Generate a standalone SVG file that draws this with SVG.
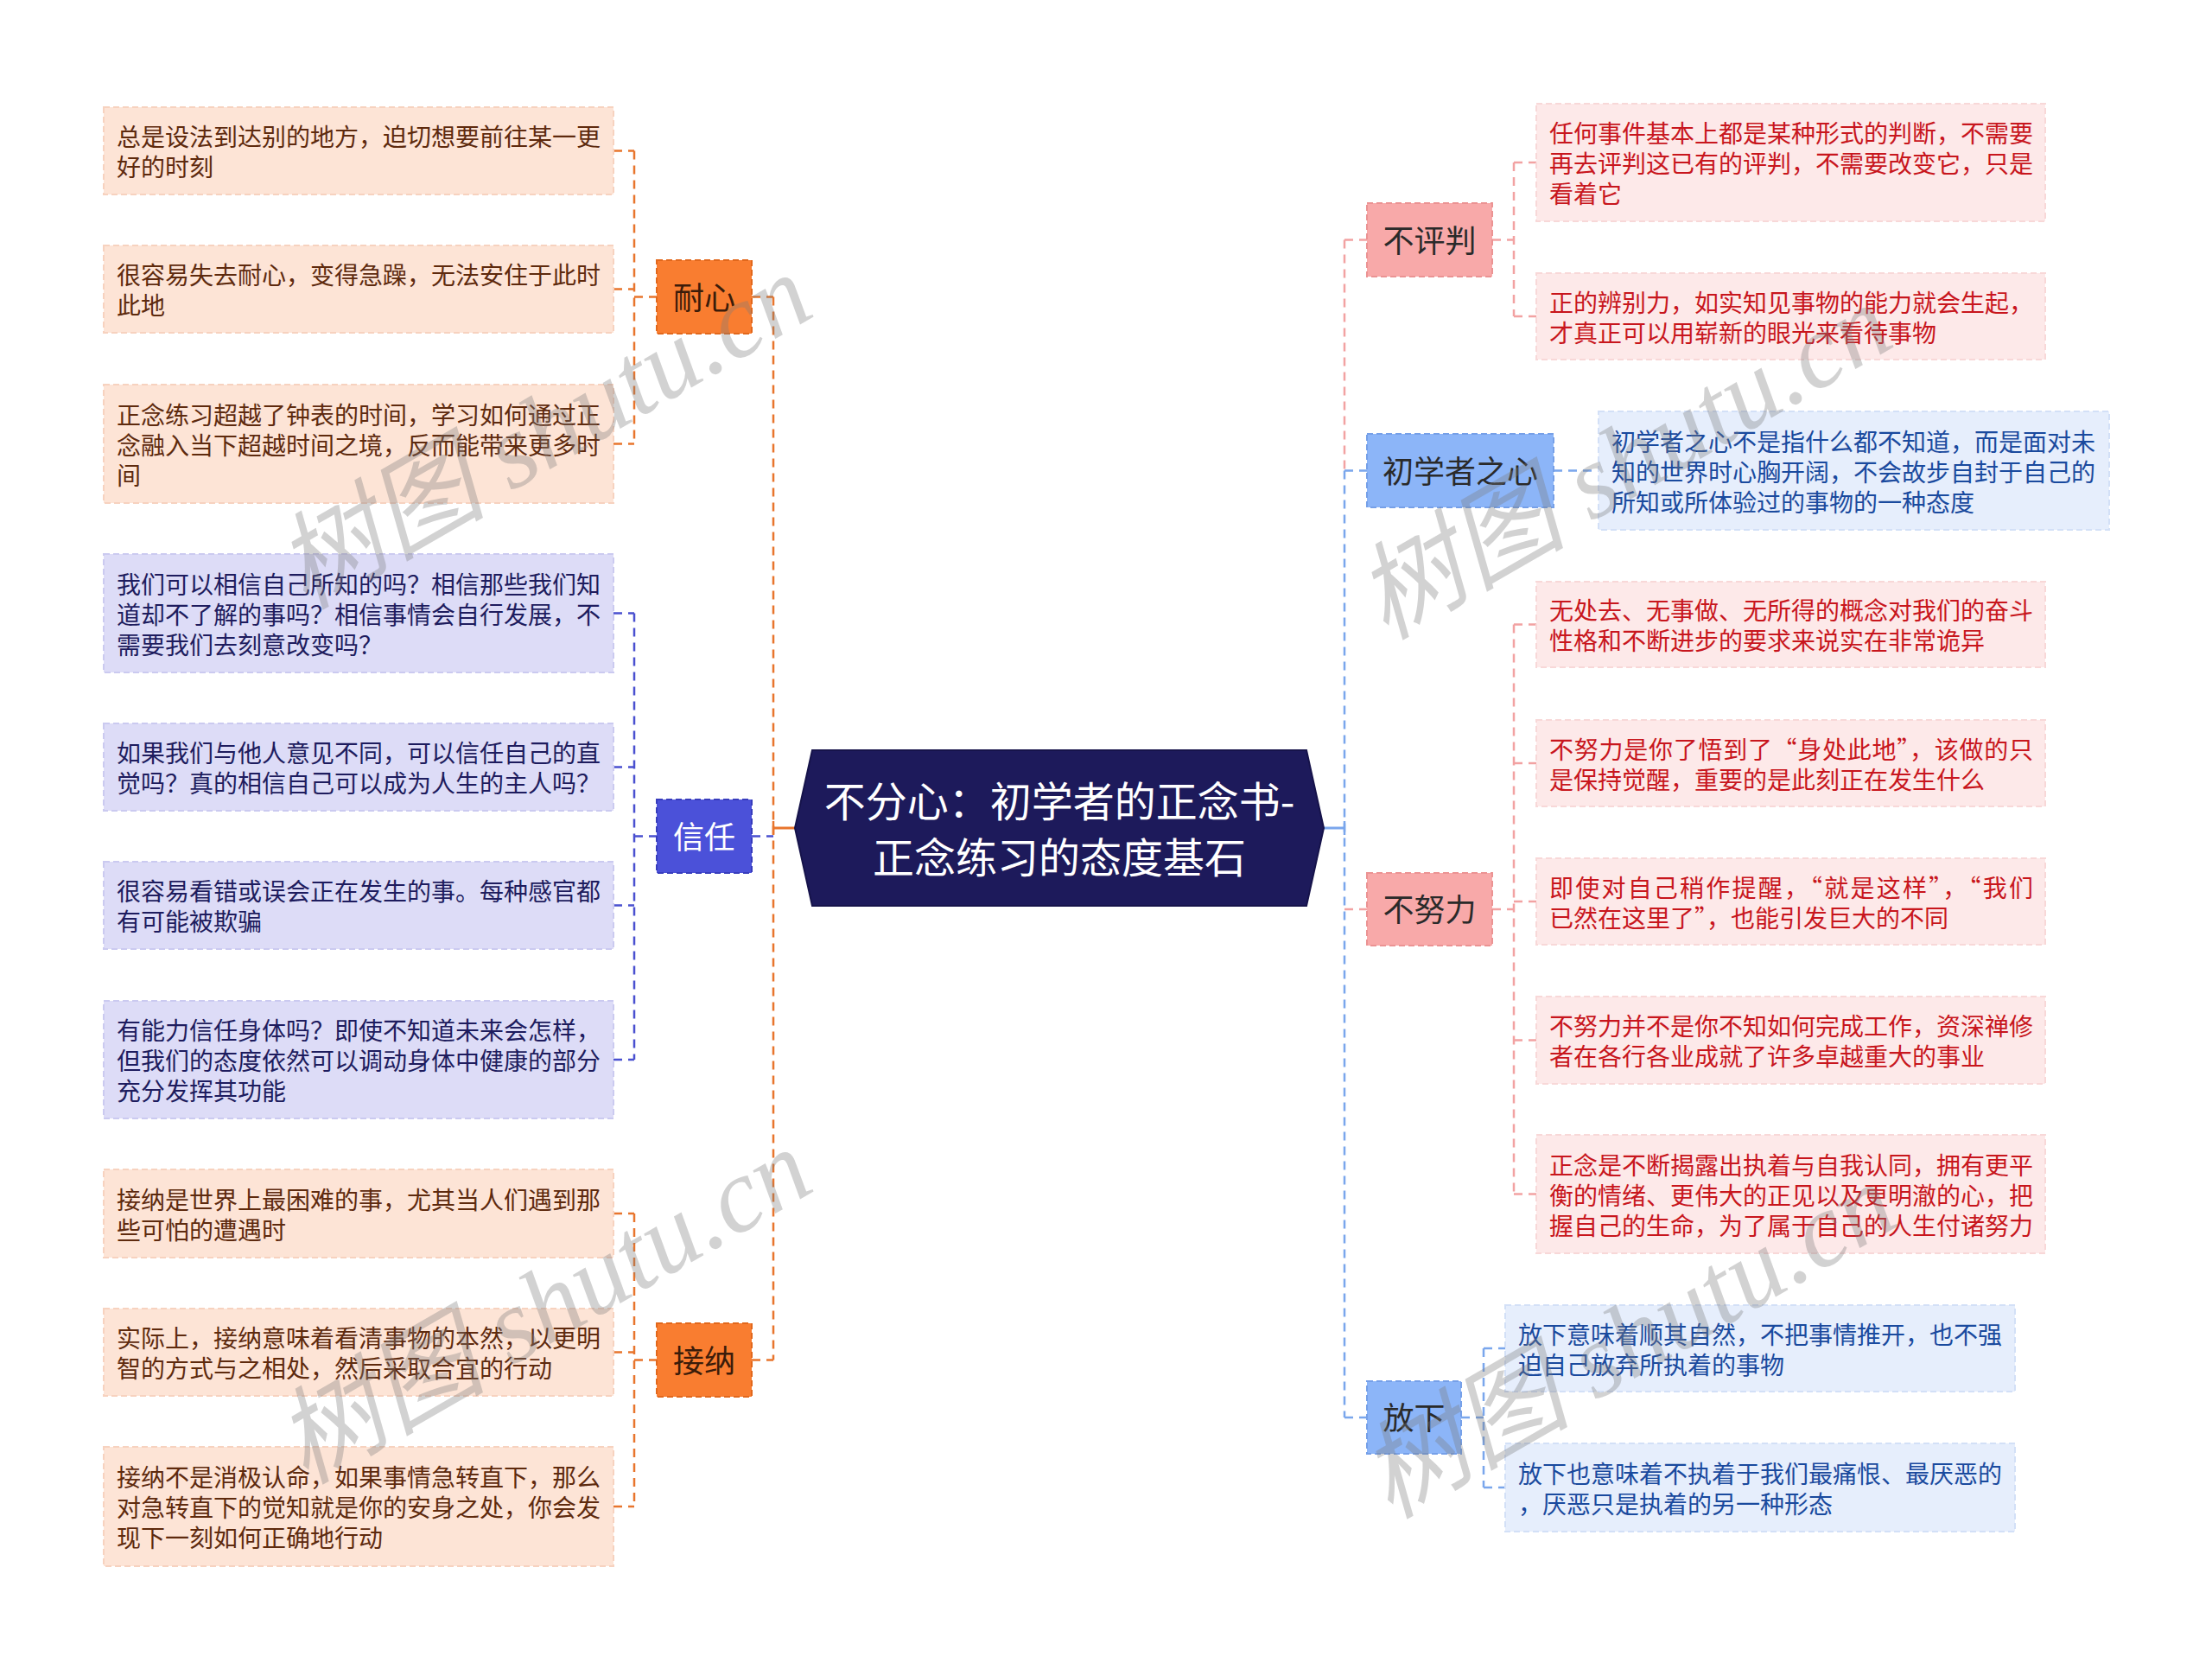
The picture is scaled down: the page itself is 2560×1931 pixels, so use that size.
<svg xmlns="http://www.w3.org/2000/svg" width="2560" height="1931" viewBox="0 0 2560 1931">
<style>
text{font-family:"Noto Sans CJK SC","Liberation Sans",sans-serif;}
.lt{font-size:28px;}
.nt{font-size:36px;text-anchor:middle;}
.rt{font-size:48px;text-anchor:middle;fill:#ffffff;}
.lo{fill:#fde4d6;stroke:#f7d2bf;stroke-width:2;stroke-dasharray:7 4;}
.lp{fill:#dddcf7;stroke:#cbcaf0;stroke-width:2;stroke-dasharray:7 4;}
.lr{fill:#fde9e9;stroke:#f8d8d8;stroke-width:2;stroke-dasharray:7 4;}
.lb{fill:#e6eefc;stroke:#d3e0f7;stroke-width:2;stroke-dasharray:7 4;}
.to{fill:#5e2a0e;}
.tp{fill:#1e1c5e;}
.tr{fill:#c8161d;}
.tb{fill:#1a4a9e;}
.no{fill:#f97d30;stroke:#e2681c;stroke-width:2;stroke-dasharray:7 4;}
.np{fill:#4b51d9;stroke:#383dbd;stroke-width:2;stroke-dasharray:7 4;}
.nr{fill:#f8a9a9;stroke:#eb9393;stroke-width:2;stroke-dasharray:7 4;}
.nb{fill:#8cb5f8;stroke:#76a0e8;stroke-width:2;stroke-dasharray:7 4;}
.c{fill:none;stroke-width:2.5;stroke-dasharray:10 7;}
.co{stroke:#e8752d;}
.cp{stroke:#4a50d0;}
.cr{stroke:#f2a2a2;}
.cb{stroke:#7aa6ec;}
.wm{font-family:"Liberation Serif","Noto Sans CJK SC",serif;font-size:122px;font-style:italic;fill:#7a7a7a;fill-opacity:0.34;text-anchor:middle;}
</style>
<rect x="0" y="0" width="2560" height="1931" fill="#ffffff"/>

<g id="connectors">
  <path class="c co" d="M895 343.5 V1573.5 M870 343.5 H895 M870 1573.5 H895"/>
  <path class="c cp" d="M870 967.5 H895"/>
  <path d="M895 958 H921" stroke="#e8752d" stroke-width="3" fill="none"/>
  <path d="M895 950 V966" stroke="#e8752d" stroke-width="2.5" fill="none"/>
  <path class="c co" d="M734 174.5 V513.5 M710 174.5 H734 M710 334.5 H734 M710 513.5 H734 M734 343.5 H760"/>
  <path class="c cp" d="M734 709.5 V1226 M710 709.5 H734 M710 887.5 H734 M710 1047.5 H734 M710 1226 H734 M734 967.5 H760"/>
  <path class="c co" d="M734 1404 V1743 M710 1404 H734 M710 1564.5 H734 M710 1743 H734 M734 1573.5 H760"/>
  <path d="M1532 958 H1556" stroke="#7aa6ec" stroke-width="3" fill="none"/>
  <path d="M1556 950 V966" stroke="#7aa6ec" stroke-width="2.5" fill="none"/>
  <path class="c cr" d="M1556 277.5 V544.5 M1556 277.5 H1582 M1556 1052 H1582"/>
  <path class="c cb" d="M1556 544.5 V1640 M1556 544.5 H1582 M1556 1640 H1582"/>
  <path class="c cr" d="M1752 188 V366 M1752 188 H1778 M1752 366 H1778 M1727 277.5 H1752"/>
  <path class="c cb" d="M1798 544.5 H1850"/>
  <path class="c cr" d="M1752 722.5 V1381.5 M1752 722.5 H1778 M1752 883 H1778 M1752 1043 H1778 M1752 1203.5 H1778 M1752 1381.5 H1778 M1727 1052 H1752"/>
  <path class="c cb" d="M1717 1560 V1721 M1717 1560 H1742 M1717 1721 H1742 M1691 1640 H1717"/>
</g>

<g id="root">
  <polygon points="940,868 1512,868 1532,958 1512,1048 940,1048 920,958" fill="#1d1a5b" stroke="#16134a" stroke-width="2"/>
  <text class="rt" x="1226" y="944.5">不分心：初学者的正念书-</text>
  <text class="rt" x="1226" y="1010">正念练习的态度基石</text>
</g>

<g id="node-naixin">
  <rect class="no" x="760" y="301" width="110" height="85"/>
  <text class="nt" x="815" y="357.5" fill="#3b1c0a">耐心</text>
</g>
<g id="node-xinren">
  <rect class="np" x="760" y="925" width="110" height="85"/>
  <text class="nt" x="815" y="981.5" fill="#ffffff">信任</text>
</g>
<g id="node-jiena">
  <rect class="no" x="760" y="1531" width="110" height="85"/>
  <text class="nt" x="815" y="1587.5" fill="#3b1c0a">接纳</text>
</g>
<g id="node-bupingpan">
  <rect class="nr" x="1582" y="235" width="145" height="85"/>
  <text class="nt" x="1654.5" y="291.5" fill="#2a2a2a">不评判</text>
</g>
<g id="node-chuxuezhe">
  <rect class="nb" x="1582" y="502" width="216" height="85"/>
  <text class="nt" x="1690" y="558.5" fill="#2a2a2a">初学者之心</text>
</g>
<g id="node-bunuli">
  <rect class="nr" x="1582" y="1010" width="145" height="84"/>
  <text class="nt" x="1654.5" y="1066" fill="#2a2a2a">不努力</text>
</g>
<g id="node-fangxia">
  <rect class="nb" x="1582" y="1598" width="109" height="84"/>
  <text class="nt" x="1636.5" y="1654" fill="#2a2a2a">放下</text>
</g>

<g id="leaf-L1">
  <rect class="lo" x="120" y="124" width="590" height="101"/>
  <text class="lt to"><tspan x="135" y="169">总是设法到达别的地方，迫切想要前往某一更</tspan><tspan x="135" y="204">好的时刻</tspan></text>
</g>
<g id="leaf-L2">
  <rect class="lo" x="120" y="284" width="590" height="101"/>
  <text class="lt to"><tspan x="135" y="329">很容易失去耐心，变得急躁，无法安住于此时</tspan><tspan x="135" y="364">此地</tspan></text>
</g>
<g id="leaf-L3">
  <rect class="lo" x="120" y="445" width="590" height="137"/>
  <text class="lt to"><tspan x="135" y="490.5">正念练习超越了钟表的时间，学习如何通过正</tspan><tspan x="135" y="525.5">念融入当下超越时间之境，反而能带来更多时</tspan><tspan x="135" y="560.5">间</tspan></text>
</g>

<g id="leaf-T1">
  <rect class="lp" x="120" y="641" width="590" height="137"/>
  <text class="lt tp"><tspan x="135" y="686.5">我们可以相信自己所知的吗？相信那些我们知</tspan><tspan x="135" y="721.5">道却不了解的事吗？相信事情会自行发展，不</tspan><tspan x="135" y="756.5">需要我们去刻意改变吗？</tspan></text>
</g>
<g id="leaf-T2">
  <rect class="lp" x="120" y="837" width="590" height="101"/>
  <text class="lt tp"><tspan x="135" y="882">如果我们与他人意见不同，可以信任自己的直</tspan><tspan x="135" y="917">觉吗？真的相信自己可以成为人生的主人吗？</tspan></text>
</g>
<g id="leaf-T3">
  <rect class="lp" x="120" y="997" width="590" height="101"/>
  <text class="lt tp"><tspan x="135" y="1042">很容易看错或误会正在发生的事。每种感官都</tspan><tspan x="135" y="1077">有可能被欺骗</tspan></text>
</g>
<g id="leaf-T4">
  <rect class="lp" x="120" y="1158" width="590" height="136"/>
  <text class="lt tp"><tspan x="135" y="1203">有能力信任身体吗？即使不知道未来会怎样，</tspan><tspan x="135" y="1238">但我们的态度依然可以调动身体中健康的部分</tspan><tspan x="135" y="1273">充分发挥其功能</tspan></text>
</g>

<g id="leaf-A1">
  <rect class="lo" x="120" y="1353" width="590" height="102"/>
  <text class="lt to"><tspan x="135" y="1398.5">接纳是世界上最困难的事，尤其当人们遇到那</tspan><tspan x="135" y="1433.5">些可怕的遭遇时</tspan></text>
</g>
<g id="leaf-A2">
  <rect class="lo" x="120" y="1514" width="590" height="101"/>
  <text class="lt to"><tspan x="135" y="1559">实际上，接纳意味着看清事物的本然，以更明</tspan><tspan x="135" y="1594">智的方式与之相处，然后采取合宜的行动</tspan></text>
</g>
<g id="leaf-A3">
  <rect class="lo" x="120" y="1674" width="590" height="138"/>
  <text class="lt to"><tspan x="135" y="1720">接纳不是消极认命，如果事情急转直下，那么</tspan><tspan x="135" y="1755">对急转直下的觉知就是你的安身之处，你会发</tspan><tspan x="135" y="1790">现下一刻如何正确地行动</tspan></text>
</g>

<g id="leaf-R1">
  <rect class="lr" x="1778" y="120" width="589" height="136"/>
  <text class="lt tr"><tspan x="1793" y="165">任何事件基本上都是某种形式的判断，不需要</tspan><tspan x="1793" y="200">再去评判这已有的评判，不需要改变它，只是</tspan><tspan x="1793" y="235">看着它</tspan></text>
</g>
<g id="leaf-R2">
  <rect class="lr" x="1778" y="316" width="589" height="100"/>
  <text class="lt tr"><tspan x="1793" y="360.5">正的辨别力，如实知见事物的能力就会生起，</tspan><tspan x="1793" y="395.5">才真正可以用崭新的眼光来看待事物</tspan></text>
</g>
<g id="leaf-B1">
  <rect class="lb" x="1850" y="476" width="591" height="137"/>
  <text class="lt tb"><tspan x="1865" y="521.5">初学者之心不是指什么都不知道，而是面对未</tspan><tspan x="1865" y="556.5">知的世界时心胸开阔，不会故步自封于自己的</tspan><tspan x="1865" y="591.5">所知或所体验过的事物的一种态度</tspan></text>
</g>
<g id="leaf-N1">
  <rect class="lr" x="1778" y="673" width="589" height="99"/>
  <text class="lt tr"><tspan x="1793" y="717">无处去、无事做、无所得的概念对我们的奋斗</tspan><tspan x="1793" y="752">性格和不断进步的要求来说实在非常诡异</tspan></text>
</g>
<g id="leaf-N2">
  <rect class="lr" x="1778" y="833" width="589" height="100"/>
  <text class="lt tr"><tspan x="1793" y="877.5" textLength="560" lengthAdjust="spacing">不努力是你了悟到了“身处此地”，该做的只</tspan><tspan x="1793" y="912.5">是保持觉醒，重要的是此刻正在发生什么</tspan></text>
</g>
<g id="leaf-N3">
  <rect class="lr" x="1778" y="993" width="589" height="100"/>
  <text class="lt tr"><tspan x="1793" y="1037.5" textLength="560" lengthAdjust="spacing">即使对自己稍作提醒，“就是这样”，“我们</tspan><tspan x="1793" y="1072.5">已然在这里了”，也能引发巨大的不同</tspan></text>
</g>
<g id="leaf-N4">
  <rect class="lr" x="1778" y="1153" width="589" height="101"/>
  <text class="lt tr"><tspan x="1793" y="1198">不努力并不是你不知如何完成工作，资深禅修</tspan><tspan x="1793" y="1233">者在各行各业成就了许多卓越重大的事业</tspan></text>
</g>
<g id="leaf-N5">
  <rect class="lr" x="1778" y="1313" width="589" height="137"/>
  <text class="lt tr"><tspan x="1793" y="1358.5">正念是不断揭露出执着与自我认同，拥有更平</tspan><tspan x="1793" y="1393.5">衡的情绪、更伟大的正见以及更明澈的心，把</tspan><tspan x="1793" y="1428.5">握自己的生命，为了属于自己的人生付诸努力</tspan></text>
</g>
<g id="leaf-F1">
  <rect class="lb" x="1742" y="1510" width="590" height="100"/>
  <text class="lt tb"><tspan x="1757" y="1554.5">放下意味着顺其自然，不把事情推开，也不强</tspan><tspan x="1757" y="1589.5">迫自己放弃所执着的事物</tspan></text>
</g>
<g id="leaf-F2">
  <rect class="lb" x="1742" y="1670" width="590" height="102"/>
  <text class="lt tb"><tspan x="1757" y="1715.5">放下也意味着不执着于我们最痛恨、最厌恶的</tspan><tspan x="1757" y="1750.5">，厌恶只是执着的另一种形态</tspan></text>
</g>

<g id="watermark">
  <text class="wm" transform="translate(650,535) rotate(-30)">树图 shutu.cn</text>
  <text class="wm" transform="translate(1900,570) rotate(-30)">树图 shutu.cn</text>
  <text class="wm" transform="translate(650,1547) rotate(-30)">树图 shutu.cn</text>
  <text class="wm" transform="translate(1905,1587) rotate(-30)">树图 shutu.cn</text>
</g>
</svg>
